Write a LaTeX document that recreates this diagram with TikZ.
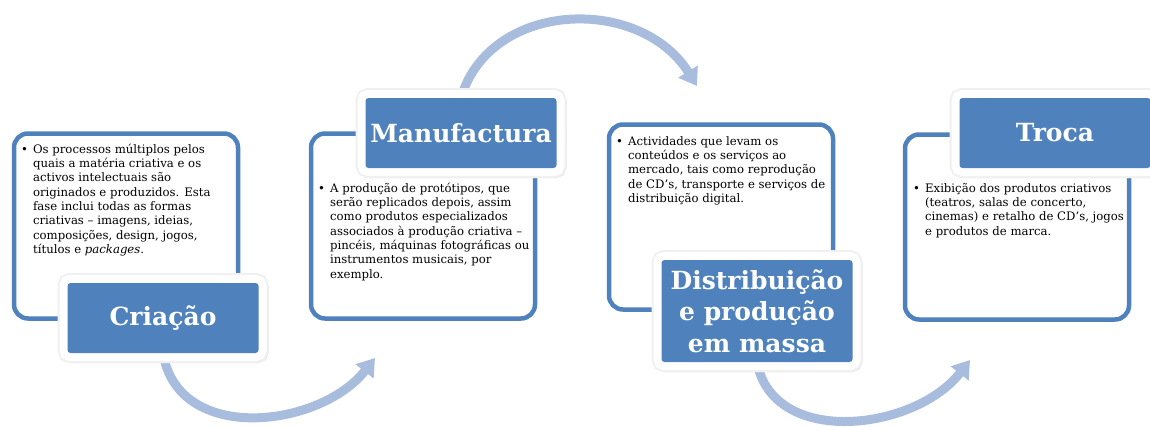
\documentclass[tikz,border=0pt]{standalone}
\usepackage{fontspec}
\setmainfont{DejaVu Serif}
\usepackage{xcolor}
\usepackage{tikz}
\usetikzlibrary{arrows.meta,backgrounds}

\definecolor{boxblue}{RGB}{79,129,189}
\definecolor{arrowblue}{RGB}{168,189,222}

% bullet with a hanging block of lines
\newcommand{\bul}[1]{\begin{tabular}{@{}l@{\hspace{5pt}}l@{}}\textbullet &
  \begin{tabular}[t]{@{}l@{}}#1\end{tabular}\end{tabular}}

\begin{document}
\begin{tikzpicture}[
      x=1pt, y=-1pt,
      txtbox/.style={draw=boxblue, line width=4.5pt, rounded corners=14pt,
                     fill=white, minimum width=224pt, minimum height=185pt},
      txt/.style={font=\fontsize{11.7}{14.3}\selectfont, inner sep=0pt,
                  anchor=north west, align=left},
      lbl/.style={fill=boxblue, rounded corners=3pt, text=white,
                  font=\fontsize{25}{31.5}\selectfont\bfseries, align=center,
                  minimum width=191pt, minimum height=70pt,
                  preaction={draw=black!12, line width=17pt,
                             transform canvas={shift={(1.5pt,-1.5pt)}}},
                  preaction={draw=black!6, line width=20pt},
                  preaction={draw=white, line width=16pt}},
      cyc/.style={draw=arrowblue, line width=9pt,
                  -{Triangle[width=22pt, length=17pt]}},
    ]
    \useasboundingbox (0,0) rectangle (1150,426);

    % --- four text boxes ----------------------------------------------------
    \node[txtbox] (criabox)  at ( 126, 226) {};
    \node[txtbox] (manbox)   at ( 423, 226) {};
    \node[txtbox] (disbox)   at ( 721, 217) {};
    \node[txtbox] (trocabox) at (1017, 227) {};

    \node[txt] (criatxt) at (21, 143) {\bul{Os processos múltiplos pelos\\
      quais a matéria criativa e os\\ activos intelectuais são\\
      originados e produzidos. Esta\\ fase inclui todas as formas\\
      criativas – imagens, ideias,\\ composições, design, jogos,\\
      títulos e \emph{packages}.}};
    \node[txt] (mantxt) at (318, 182) {\bul{A produção de protótipos, que\\
      serão replicados depois, assim\\ como produtos especializados\\
      associados à produção criativa –\\ pincéis, máquinas fotográficas ou\\
      instrumentos musicais, por\\ exemplo.}};
    \node[txt] (distxt) at (616, 135) {\bul{Actividades que levam os\\
      conteúdos e os serviços ao\\ mercado, tais como reprodução\\
      de CD’s, transporte e serviços de\\ distribuição digital.}};
    \node[txt] (trocatxt) at (913, 182) {\bul{Exibição dos produtos criativos\\
      (teatros, salas de concerto,\\ cinemas) e retalho de CD’s, jogos\\
      e produtos de marca.}};

    % --- stage labels -------------------------------------------------------
    \node[lbl] (crialbl)  at ( 163, 318) {Criação};
    \node[lbl] (manlbl)   at ( 461, 133) {Manufactura};
    \node[lbl, minimum height=102pt] (dislbl) at (757, 311)
              {Distribuição\\ e produção\\ em massa};
    \node[lbl] (trocalbl) at (1055, 133) {Troca};

    % --- curved arrows, behind the labels -----------------------------------
    \coordinate (a1end) at (375, 358);
    \coordinate (a2end) at (697,  86);
    \coordinate (a3end) at (970, 360);
    \begin{scope}[on background layer]
      \draw[cyc] (crialbl.south) .. controls (178, 445) and (320, 428)
                 .. (a1end);
      \draw[cyc] (manlbl.north) .. controls (490, 0) and (640, -5)
                 .. (a2end);
      \draw[cyc] (dislbl.south) .. controls (773, 448) and (915, 431)
                 .. (a3end);
    \end{scope}
  \end{tikzpicture}
\end{document}
